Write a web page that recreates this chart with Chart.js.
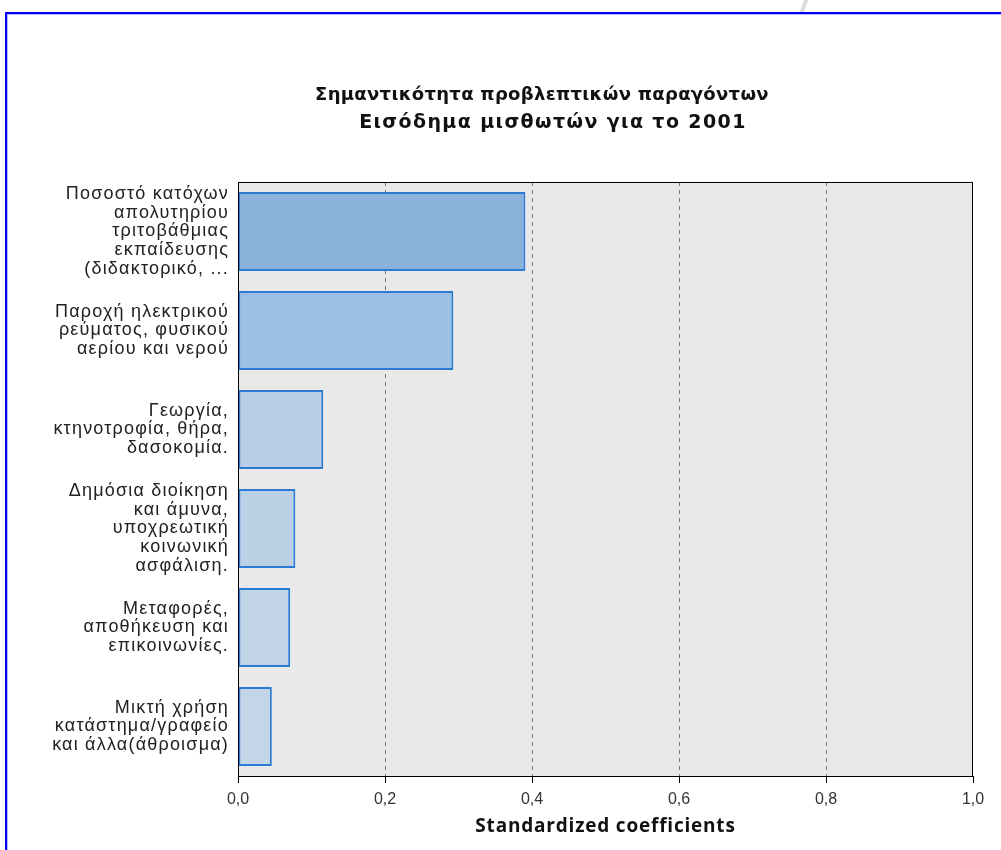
<!DOCTYPE html>
<html>
<head>
<meta charset="utf-8">
<script src="https://cdn.jsdelivr.net/npm/chart.js@4"></script>
<style>
  body { margin: 0; background: #fff; }
  #frame { position: absolute; left: 5px; top: 12px; width: 1200px; height: 1000px;
           border-left: 2px solid #0000ee; border-top: 2px solid #0000ee;
           box-shadow: inset 1px 1px 0 #b8b8ff; }
  #slash { position: absolute; left: 802px; top: -2px; width: 4px; height: 16px;
           background: #dcdcdc; transform: rotate(20deg); }
  #wrap { position: absolute; left: 0; top: 0; width: 1001px; height: 850px; }
</style>
</head>
<body>
<div id="slash"></div>
<div id="frame"></div>
<div id="wrap"><canvas id="chart"></canvas></div>
<script>
// κατηγορίες (πολλαπλές γραμμές όπως στο πρωτότυπο)
const categories = [
  ["Ποσοστό κατόχων", "απολυτηρίου", "τριτοβάθμιας", "εκπαίδευσης", "(διδακτορικό, ..."],
  ["Παροχή ηλεκτρικού", "ρεύματος, φυσικού", "αερίου και νερού"],
  ["Γεωργία,", "κτηνοτροφία, θήρα,", "δασοκομία."],
  ["Δημόσια διοίκηση", "και άμυνα,", "υποχρεωτική", "κοινωνική", "ασφάλιση."],
  ["Μεταφορές,", "αποθήκευση και", "επικοινωνίες."],
  ["Μικτή χρήση", "κατάστημα/γραφείο", "και άλλα(άθροισμα)"]
];
const importance = [0.391, 0.293, 0.116, 0.078, 0.071, 0.046];
const barColors = ["#8ab3dc", "#9dbfe2", "#b9cee6", "#bcd0e6", "#c0d3e7", "#c3d5e7"];
const xTicks = [0, 0.2, 0.4, 0.6, 0.8, 1.0];
const titleLines = ["Σημαντικότητα προβλεπτικών παραγόντων", "Εισόδημα μισθωτών για το 2001"];

// αραιά γράμματα σε ένα κομμάτι του άξονα
function spaceOut(scale, method, spacing) {
  const ctx = scale.ctx;
  const orig = Object.getPrototypeOf(scale)[method];
  scale[method] = function (area) {
    ctx.save();
    ctx.letterSpacing = spacing;
    orig.call(this, area);
    ctx.restore();
  };
}

// φόντο, πλαίσιο και τίτλος
const plotBox = {
  id: "plotBox",
  beforeDraw(chart) {
    const { ctx, chartArea: a } = chart;
    ctx.save();
    ctx.fillStyle = "#e9e9e9";
    ctx.fillRect(a.left, a.top, a.right - a.left, a.bottom - a.top);
    ctx.restore();

    if (!chart._spaced) {
      spaceOut(chart.scales.y, "drawLabels", "1.2px");
      spaceOut(chart.scales.x, "drawTitle", "0.8px");
      chart._spaced = true;
    }
  },
  afterDraw(chart) {
    const { ctx, chartArea: a } = chart;
    ctx.save();
    ctx.strokeStyle = "#000";
    ctx.lineWidth = 1;
    ctx.strokeRect(a.left + 0.5, a.top + 0.5, a.right - a.left - 1, a.bottom - a.top);

    ctx.fillStyle = "#111";
    ctx.textAlign = "center";
    ctx.textBaseline = "middle";
    ctx.font = "bold 18px 'DejaVu Sans'";
    ctx.letterSpacing = "0.3px";
    ctx.fillText(titleLines[0], 542, 95);
    ctx.font = "bold 19px 'DejaVu Sans'";
    ctx.letterSpacing = "1.4px";
    ctx.fillText(titleLines[1], 553, 123);
    ctx.restore();
  }
};

new Chart(document.getElementById("chart"), {
  type: "bar",
  data: {
    labels: categories,
    datasets: [{
      data: importance,
      backgroundColor: barColors,
      borderColor: "#2b7bd3",
      borderWidth: 2,
      borderSkipped: false,
      barPercentage: 0.8,
      categoryPercentage: 1.0
    }]
  },
  options: {
    indexAxis: "y",
    responsive: true,
    maintainAspectRatio: false,
    animation: false,
    layout: { padding: { left: 0, right: 28, top: 182, bottom: 0 } },
    plugins: {
      legend: { display: false },
      tooltip: { enabled: false },
      title: { display: false }
    },
    scales: {
      x: {
        min: 0, max: 1,
        afterBuildTicks(scale) { scale.ticks = xTicks.map(v => ({ value: v })); },
        afterFit(scale) { scale.height = 74; },
        grid: {
          color: ctx => (ctx.tick && (ctx.tick.value === 0 || ctx.tick.value === 1)) ? "rgba(0,0,0,0)" : "#7a7a7a",
          tickColor: "#000",
          tickBorderDash: [],
          tickLength: 7,
          drawTicks: true
        },
        border: { display: true, color: "#000", width: 1, dash: [4, 4] },
        ticks: {
          color: "#333",
          padding: 7,
          font: { family: "Liberation Sans", size: 16 },
          callback: v => Number(v).toFixed(1).replace(".", ",")
        },
        title: {
          display: true,
          text: "Standardized coefficients",
          color: "#111",
          font: { family: "Open Sans", size: 19, weight: "bold" },
          padding: { top: 0, bottom: 12 }
        }
      },
      y: {
        afterFit(scale) { scale.width = 238; },
        grid: { display: false, drawTicks: false, tickLength: 0 },
        border: { display: true, color: "#000", width: 1 },
        ticks: {
          color: "#222",
          padding: 9,
          font: { family: "Liberation Sans", size: 18, lineHeight: 1.05 }
        }
      }
    }
  },
  plugins: [plotBox]
});
</script>
</body>
</html>
